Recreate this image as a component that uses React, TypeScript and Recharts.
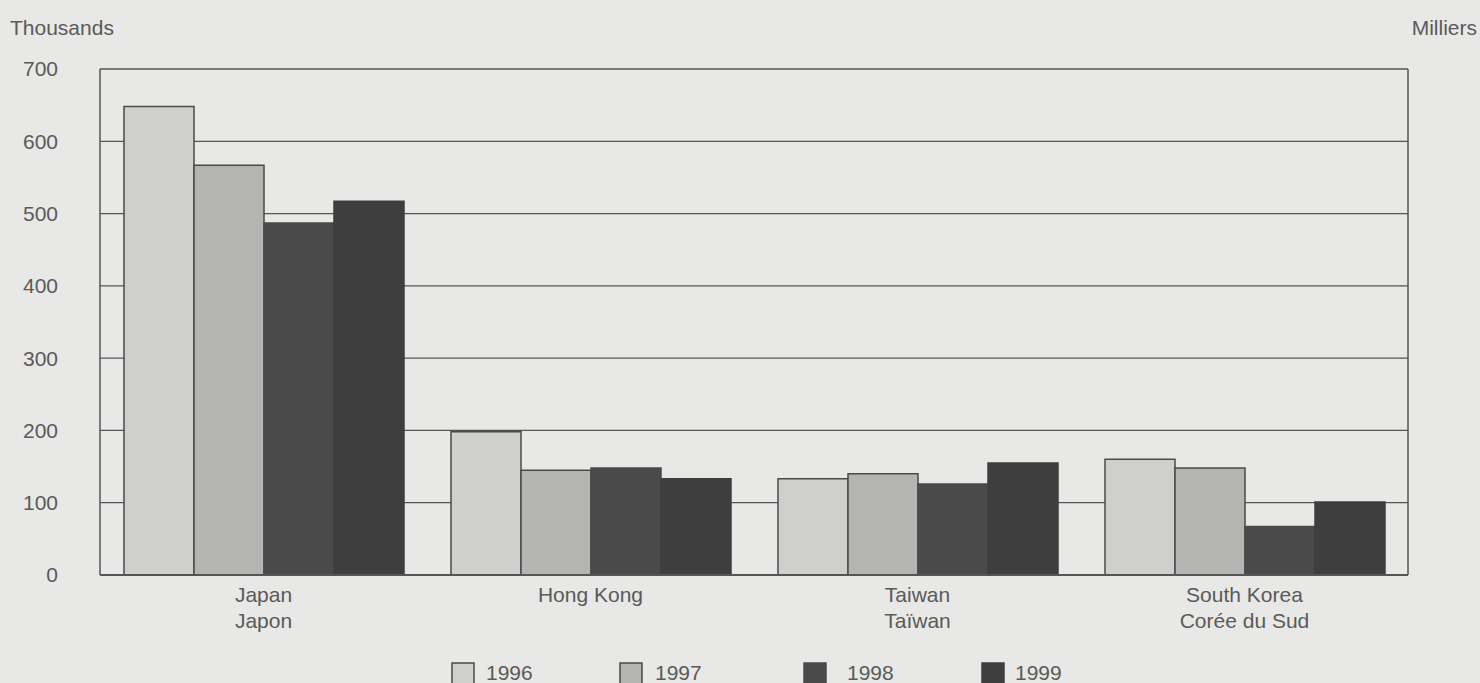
import { BarChart, Bar, XAxis, YAxis, CartesianGrid } from 'recharts';

// categories (English / French)
const categoriesEn = ['Japan', 'Hong Kong', 'Taiwan', 'South Korea'];
const categoriesFr = ['Japon', '', 'Taïwan', 'Corée du Sud'];

// thousands of visitors, by year
const years = ['1996', '1997', '1998', '1999'];
const values1996 = [648, 198, 133, 160];
const values1997 = [567, 145, 140, 148];
const values1998 = [487, 148, 126, 67];
const values1999 = [517, 133, 155, 101];

const yTicks = [0, 100, 200, 300, 400, 500, 600, 700];

const data = categoriesEn.map((name, i) => ({
  name,
  fr: categoriesFr[i],
  y1996: values1996[i],
  y1997: values1997[i],
  y1998: values1998[i],
  y1999: values1999[i],
}));

const FONT = '"Liberation Sans", Arial, Helvetica, sans-serif';
const FS = 21;
const TEXT = '#5a5a5a';
const LINE = '#555555';
const BG = '#e8e8e6';

const seriesStyle = [
  { key: 'y1996', fill: '#cfcfcd', stroke: '#4a4a4a' },
  { key: 'y1997', fill: '#b4b4b2', stroke: '#4a4a4a' },
  { key: 'y1998', fill: '#4a4a4a', stroke: '#4a4a4a' },
  { key: 'y1999', fill: '#3e3e3e', stroke: '#3e3e3e' },
];

// legend swatch / label positions
const legendBoxX = [452, 620, 804, 982];
const legendTextX = [486, 655, 847, 1015];

const XTick = (props: any) => {
  const { x, y, payload } = props;
  const fr = categoriesFr[payload.index];
  return (
    <g>
      <text x={x} y={y + 27} textAnchor="middle" fill={TEXT} fontSize={FS} fontFamily={FONT}>
        {payload.value}
      </text>
      {fr && (
        <text x={x} y={y + 53} textAnchor="middle" fill={TEXT} fontSize={FS} fontFamily={FONT}>
          {fr}
        </text>
      )}
    </g>
  );
};

const RightTick = (props: any) => {
  const { x, y, payload } = props;
  return (
    <text x={x + 69} y={y} dy="0.36em" textAnchor="end" fill={TEXT} fontSize={FS} fontFamily={FONT}>
      {payload.value}
    </text>
  );
};

export default function App() {
  return (
    <div style={{ position: 'absolute', left: 0, top: 0, width: 1480, height: 683, background: BG, overflow: 'hidden' }}>
      <BarChart
        width={1480}
        height={683}
        data={data}
        margin={{ top: 69, right: 0, bottom: 0, left: 0 }}
        barGap={0}
        barCategoryGap={24}
      >
        <CartesianGrid horizontal vertical={false} stroke={LINE} strokeWidth={1.3} />
        <XAxis
          dataKey="name"
          height={108}
          interval={0}
          tickSize={0}
          tickMargin={0}
          axisLine={{ stroke: LINE, strokeWidth: 2 }}
          tick={<XTick />}
        />
        <YAxis
          width={100}
          domain={[0, 700]}
          ticks={yTicks}
          interval={0}
          tickSize={0}
          tickMargin={42}
          axisLine={{ stroke: LINE, strokeWidth: 1.5 }}
          tick={{ fill: TEXT, fontSize: FS, fontFamily: FONT }}
        />
        <YAxis
          yAxisId="right"
          orientation="right"
          width={72}
          domain={[0, 700]}
          ticks={yTicks}
          interval={0}
          tickSize={0}
          tickMargin={0}
          axisLine={{ stroke: LINE, strokeWidth: 1.5 }}
          tick={<RightTick />}
        />
        {seriesStyle.map((s, i) => (
          <Bar
            key={s.key}
            dataKey={s.key}
            name={years[i]}
            fill={s.fill}
            stroke={s.stroke}
            strokeWidth={1.5}
            isAnimationActive={false}
          />
        ))}
      </BarChart>
      <svg
        width={1480}
        height={683}
        style={{ position: 'absolute', left: 0, top: 0, pointerEvents: 'none' }}
      >
        <text x={10} y={35} fill={TEXT} fontSize={FS} fontFamily={FONT}>Thousands</text>
        <text x={1477} y={35} textAnchor="end" fill={TEXT} fontSize={FS} fontFamily={FONT}>Milliers</text>
        {years.map((yr, i) => (
          <g key={yr}>
            <rect
              x={legendBoxX[i]}
              y={663}
              width={22}
              height={26}
              fill={seriesStyle[i].fill}
              stroke={seriesStyle[i].stroke}
              strokeWidth={1.5}
            />
            <text x={legendTextX[i]} y={680} fill={TEXT} fontSize={FS} fontFamily={FONT}>
              {yr}
            </text>
          </g>
        ))}
      </svg>
    </div>
  );
}
